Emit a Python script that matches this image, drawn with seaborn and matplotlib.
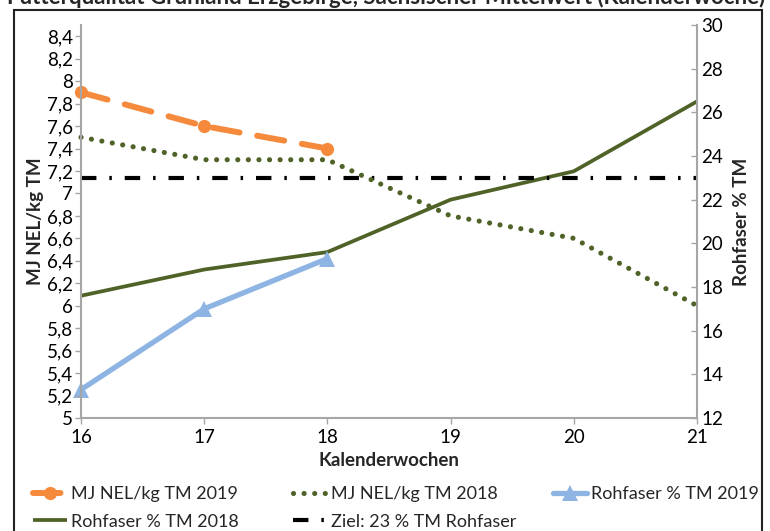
import matplotlib
matplotlib.use("Agg")
import matplotlib.pyplot as plt
import seaborn as sns
import pandas as pd
from matplotlib.patches import Rectangle

# ---- data ----
weeks = [16, 17, 18, 19, 20, 21]
weeks_2019 = [16, 17, 18]
nel_2019 = [7.9, 7.6, 7.4]
nel_2018 = [7.5, 7.3, 7.3, 6.8, 6.6, 6.0]
rf_2019 = [13.3, 17.0, 19.3]
rf_2018 = [17.6, 18.8, 19.6, 22.0, 23.3, 26.5]
ziel_weeks = [16, 21]
ziel = [23, 23]

left_ticks = [5.0, 5.2, 5.4, 5.6, 5.8, 6.0, 6.2, 6.4, 6.6, 6.8, 7.0, 7.2, 7.4, 7.6, 7.8, 8.0, 8.2, 8.4]
right_ticks = [12, 14, 16, 18, 20, 22, 24, 26, 28, 30]

lab_nel19 = "MJ NEL/kg TM 2019"
lab_nel18 = "MJ NEL/kg TM 2018"
lab_rf19 = "Rohfaser % TM 2019"
lab_rf18 = "Rohfaser % TM 2018"
lab_ziel = "Ziel: 23 % TM Rohfaser"

# ---- style ----
sns.set_theme(style="white")
plt.rcParams["font.family"] = ["Lato", "DejaVu Sans"]

c_orange = "#F58A3C"
c_olive = "#4F6228"
c_blue = "#8DB4E2"
c_axis = "#A6A6A6"

fig = plt.figure(figsize=(7.70, 5.31), dpi=100)
ax = fig.add_axes([81 / 770, 1 - 418 / 531, (697 - 81) / 770, (418 - 25) / 531])
ax2 = ax.twinx()

df19 = pd.DataFrame({"week": weeks_2019, "nel": nel_2019, "rf": rf_2019})
df18 = pd.DataFrame({"week": weeks, "nel": nel_2018, "rf": rf_2018})
dfz = pd.DataFrame({"week": ziel_weeks, "z": ziel})

# right axis series
sns.lineplot(data=df18, x="week", y="rf", ax=ax2, color=c_olive, linewidth=2.7,
             solid_capstyle="butt", label=lab_rf18, legend=False)
l_rf18 = ax2.lines[-1]
sns.lineplot(data=df19, x="week", y="rf", ax=ax2, color=c_blue, linewidth=3.8,
             marker="^", markersize=11, markeredgewidth=0, label=lab_rf19,
             legend=False, clip_on=False)
l_rf19 = ax2.lines[-1]
sns.lineplot(data=dfz, x="week", y="z", ax=ax2, color="black", linewidth=3.0,
             label=lab_ziel, legend=False)
l_ziel = ax2.lines[-1]
l_ziel.set_linestyle((0, (3.7, 3.1, 0.6, 3.1)))

# left axis series
sns.lineplot(data=df18, x="week", y="nel", ax=ax, color=c_olive, linewidth=3.7,
             label=lab_nel18, legend=False, clip_on=False)
l_nel18 = ax.lines[-1]
l_nel18.set_linestyle((0, (0.01, 2.05)))
l_nel18.set_dash_capstyle("round")
sns.lineplot(data=df19, x="week", y="nel", ax=ax, color=c_orange, linewidth=4.3,
             marker="o", markersize=9.5, markeredgewidth=0, label=lab_nel19,
             legend=False, clip_on=False)
l_nel19 = ax.lines[-1]
l_nel19.set_linestyle((0, (4.6, 3.0)))
l_nel19.set_dash_capstyle("round")

ax.set_zorder(ax2.get_zorder() + 1)
ax.patch.set_visible(False)

# ---- axes ----
ax.set_xlim(16, 21)
ax.set_ylim(5, 8.5)
ax2.set_ylim(12, 30)
ax.set_xticks(weeks)
ax.set_xticklabels([str(w) for w in weeks])
ax.set_yticks(left_ticks)
ax.set_yticklabels([("%g" % v).replace(".", ",") for v in left_ticks])
ax2.set_yticks(right_ticks)
ax2.set_yticklabels([str(v) for v in right_ticks])

fs = 13.5
for a in (ax, ax2):
    for s in a.spines.values():
        s.set_visible(False)
    a.grid(False)
ax.spines["left"].set_visible(True)
ax.spines["bottom"].set_visible(True)
ax2.spines["right"].set_visible(True)
for s in (ax.spines["left"], ax.spines["bottom"], ax2.spines["right"]):
    s.set_color(c_axis)
    s.set_linewidth(1.5)

ax.tick_params(axis="y", which="both", left=True, direction="out", length=4,
               width=1, color=c_axis, labelsize=fs, pad=2, labelcolor="black")
ax.tick_params(axis="x", which="both", bottom=True, direction="out", length=4,
               width=1, color=c_axis, labelsize=fs, pad=4, labelcolor="black")
ax2.tick_params(axis="y", right=True, direction="in", length=4, width=1,
                color=c_axis, labelsize=fs, pad=3, labelcolor="black")

ax.set_xlabel("Kalenderwochen", fontsize=fs, fontweight="bold", labelpad=4)
ax.set_ylabel("MJ NEL/kg TM", fontsize=fs, fontweight="bold", labelpad=2)
ax2.set_ylabel("Rohfaser % TM", fontsize=fs, fontweight="bold", labelpad=7)

# ---- legends ----
lkw = dict(frameon=False, borderpad=0, handlelength=1.9, handletextpad=0.2,
           labelspacing=0.65, fontsize=13, numpoints=1, borderaxespad=0)
ytop = 1 - 486 / 531
fig.legend([l_nel19, l_rf18], [lab_nel19, lab_rf18], loc="upper left",
           bbox_to_anchor=(33 / 770, ytop), **lkw)
fig.legend([l_nel18, l_ziel], [lab_nel18, lab_ziel], loc="upper left",
           bbox_to_anchor=(293 / 770, ytop), **lkw)
fig.legend([l_rf19], [lab_rf19], loc="upper left",
           bbox_to_anchor=(553 / 770, ytop), **lkw)

# ---- frame and clipped title ----
fig.patches.append(Rectangle((14 / 770, -0.05), (762 - 14) / 770, 1.05 - 10 / 531,
                             transform=fig.transFigure, fill=False,
                             edgecolor="#222222", linewidth=1.5))
fig.text(386 / 770, 1 - 4 / 531, "Futterqualität Grünland Erzgebirge, Sächsischer Mittelwert (Kalenderwoche)",
         ha="center", va="baseline", fontsize=16, fontweight="bold")

fig.savefig("out.png", dpi=100)
